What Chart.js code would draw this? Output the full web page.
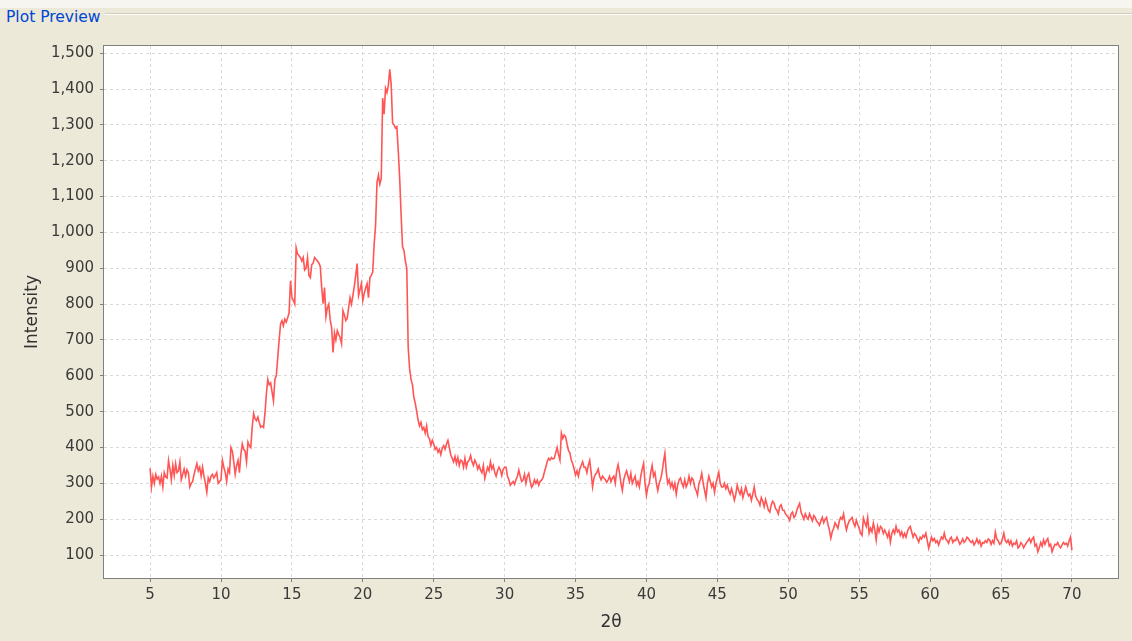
<!DOCTYPE html>
<html>
<head>
<meta charset="utf-8">
<script src="https://cdn.jsdelivr.net/npm/chart.js@4.4.1/dist/chart.umd.min.js"></script>
<style>
    body {
        margin: 0;
        width: 1132px;
        height: 641px;
        overflow: hidden;
        position: relative;
        background: #ece9d8;
        font-family: "DejaVu Sans", sans-serif;
    }
    #top-strip {
        position: absolute; left: 0; top: 0;
        width: 1132px; height: 8px;
        background: #f6f5ef;
    }
    #group-rule {
        position: absolute; left: 105px; top: 13px;
        width: 1027px; height: 0;
        border-top: 1px solid #cfcdbd;
        border-bottom: 1px solid #ffffff;
    }
    #group-title {
        position: absolute; left: 6px; top: 8px;
        color: #0046d5;
        font-size: 15.5px;
        line-height: 18px;
    }
    #myChart { position: absolute; left: 0; top: 0; }
</style>
</head>
<body>
<div id="top-strip"></div>
<div id="group-rule"></div>
<div id="group-title">Plot Preview</div>
<canvas id="myChart" width="1132" height="641"></canvas>

<script>
var thetaStart = 5;
var thetaStep = 0.1;
var intensity = [
    342, 290, 320, 300, 325, 312, 318, 300, 320, 290,   // 5
    330, 318, 315, 364, 340, 310, 350, 322, 355, 330,   // 6
    335, 360, 310, 325, 340, 320, 338, 330, 290, 300,   // 7
    305, 325, 340, 355, 335, 345, 320, 345, 320, 300,   // 8
    275, 315, 305, 320, 325, 315, 322, 330, 300, 305,   // 9
    310, 364, 345, 330, 305, 340, 330, 400, 390, 360,   // 10
    325, 350, 364, 330, 380, 410, 395, 390, 360, 415,   // 11
    405, 400, 457, 495, 480, 475, 485, 470, 457, 460,   // 12
    456, 495, 550, 590, 575, 580, 555, 530, 590, 600,   // 13
    650, 700, 745, 754, 740, 758, 750, 762, 775, 865,   // 14
    820, 810, 800, 957, 940, 935, 930, 920, 930, 895,   // 15
    900, 930, 880, 874, 910, 915, 930, 925, 920, 915,   // 16
    905, 846, 801, 846, 765, 790, 800, 755, 735, 665,   // 17
    720, 700, 726, 715, 707, 690, 782, 770, 754, 760,   // 18
    790, 818, 800, 824, 850, 880, 913, 824, 840, 857,   // 19
    810, 830, 845, 857, 818, 874, 880, 890, 968, 1020,  // 20
    1140, 1160, 1135, 1150, 1375, 1330, 1402, 1390, 1410, 1455, // 21
    1413, 1305, 1300, 1291, 1295, 1227, 1150, 1050, 960, 950,   // 22
    920, 900, 679, 620, 590, 575, 540, 523, 500, 476,   // 23
    460, 470, 450, 456, 440, 460, 430, 425, 406, 420,   // 24
    410, 395, 400, 387, 395, 380, 398, 405, 395, 410,   // 25
    420, 400, 380, 370, 360, 375, 356, 372, 350, 365,   // 26
    362, 345, 370, 345, 360, 365, 378, 360, 350, 365,   // 27
    356, 340, 350, 337, 330, 350, 314, 330, 345, 335,   // 28
    360, 340, 350, 331, 320, 335, 345, 337, 322, 340,   // 29
    345, 345, 320, 310, 295, 300, 305, 297, 310, 320,   // 30
    337, 320, 305, 309, 325, 300, 320, 328, 305, 289,   // 31
    295, 310, 300, 309, 295, 305, 309, 315, 331, 345,   // 32
    360, 370, 365, 372, 368, 370, 385, 400, 380, 365,   // 33
    440, 425, 435, 430, 410, 392, 385, 365, 355, 340,   // 34
    323, 335, 320, 340, 350, 360, 345, 345, 330, 350,   // 35
    364, 330, 290, 315, 325, 330, 340, 320, 310, 320,   // 36
    315, 310, 303, 310, 320, 305, 315, 320, 300, 335,   // 37
    352, 330, 300, 280, 310, 325, 335, 320, 305, 328,   // 38
    300, 310, 320, 295, 305, 290, 320, 340, 356, 300,   // 39
    267, 290, 300, 330, 350, 320, 330, 300, 280, 300,   // 40
    312, 330, 360, 384, 330, 300, 310, 290, 302, 285,   // 41
    300, 270, 295, 310, 315, 300, 290, 310, 290, 300,   // 42
    320, 300, 315, 310, 290, 280, 267, 300, 310, 328,   // 43
    300, 280, 260, 300, 320, 305, 290, 300, 275, 300,   // 44
    315, 331, 300, 290, 290, 300, 285, 295, 280, 270,   // 45
    285, 270, 253, 270, 295, 280, 270, 285, 260, 275,   // 46
    290, 275, 265, 270, 253, 270, 290, 265, 255, 250,   // 47
    239, 260, 250, 235, 255, 240, 225, 220, 240, 250,   // 48
    244, 230, 225, 215, 235, 240, 225, 225, 215, 210,   // 49
    205, 197, 215, 220, 205, 210, 225, 235, 244, 220,   // 50
    210, 200, 215, 205, 200, 215, 205, 195, 210, 205,   // 51
    195, 190, 183, 195, 205, 190, 200, 205, 185, 170,   // 52
    147, 165, 175, 190, 183, 175, 195, 205, 200, 215,   // 53
    190, 170, 185, 195, 200, 205, 190, 180, 197, 185,   // 54
    175, 161, 155, 203, 190, 180, 205, 161, 175, 165,   // 55
    189, 170, 142, 180, 165, 180, 175, 160, 170, 161,   // 56
    150, 165, 136, 160, 170, 160, 180, 165, 170, 155,   // 57
    165, 150, 160, 150, 165, 175, 180, 165, 150, 160,   // 58
    155, 145, 136, 150, 145, 155, 150, 161, 140, 119,   // 59
    135, 150, 140, 146, 135, 140, 128, 140, 150, 145,   // 60
    161, 145, 140, 133, 145, 150, 135, 142, 140, 150,   // 61
    140, 130, 136, 145, 135, 140, 150, 146, 140, 135,   // 62
    140, 128, 135, 145, 133, 140, 125, 135, 133, 140,   // 63
    135, 145, 142, 130, 140, 133, 164, 145, 140, 130,   // 64
    133, 145, 161, 140, 135, 142, 130, 140, 125, 133,   // 65
    130, 140, 120, 124, 135, 130, 120, 128, 135, 140,   // 66
    146, 135, 145, 150, 125, 130, 109, 120, 135, 125,   // 67
    142, 130, 140, 146, 125, 130, 109, 120, 130, 128,   // 68
    135, 125, 120, 128, 135, 130, 133, 125, 140, 150,   // 69
    114                                                 // 70
];
var xMin = 1.75, xMax = 73.25;
var yMin = 36, yMax = 1520;

var tickFont = { family: "DejaVu Sans", size: 15 };
var titleFont = { family: "DejaVu Sans", size: 17 };

function make_points() {
    var pts = [];
    for (var i = 0; i < intensity.length; i++) {
        var x = Math.round((thetaStart + i * thetaStep) * 100) / 100;
        pts.push({ x: x, y: intensity[i] });
    }
    return pts;
}

// white plot background and grey frame round the data area
var plotFrame = {
    id: 'plotFrame',
    beforeDraw: function (chart) {
        var a = chart.chartArea;
        var ctx = chart.ctx;
        ctx.save();
        ctx.fillStyle = '#ffffff';
        ctx.fillRect(a.left, a.top, a.right - a.left, a.bottom - a.top);
        ctx.restore();
    },
    afterDraw: function (chart) {
        var a = chart.chartArea;
        var ctx = chart.ctx;
        ctx.save();
        ctx.strokeStyle = '#808080';
        ctx.lineWidth = 1;
        ctx.strokeRect(a.left - 0.5, a.top - 0.5, a.right - a.left + 1, a.bottom - a.top + 1);
        ctx.restore();
    }
};

function chart_xrd() {
    var ctx = document.getElementById('myChart').getContext('2d');
    var chartConfig = {
        type: 'line',
        data: {
            datasets: [{
                label: 'Intensity',
                data: make_points(),
                borderColor: '#ff5555',
                borderWidth: 1.6,
                pointRadius: 0,
                tension: 0,
                fill: false
            }]
        },
        options: {
            responsive: false,
            animation: false,
            devicePixelRatio: 1,
            layout: { padding: { left: 0, top: 46, right: 14, bottom: 0 } },
            scales: {
                x: {
                    type: 'linear',
                    min: xMin,
                    max: xMax,
                    afterFit: function (scale) { scale.height = 63; },
                    border: { display: false, dash: [3, 3] },
                    grid: {
                        color: '#d9d9d9',
                        tickColor: '#808080',
                        tickLength: 4,
                        tickBorderDash: []
                    },
                    ticks: {
                        stepSize: 5,
                        includeBounds: false,
                        maxRotation: 0,
                        padding: 4,
                        color: '#3a3a3a',
                        font: tickFont
                    },
                    title: {
                        display: true,
                        text: '2θ',
                        color: '#333333',
                        font: titleFont,
                        padding: { top: 0, bottom: 8 }
                    }
                },
                y: {
                    min: yMin,
                    max: yMax,
                    afterFit: function (scale) { scale.width = 104; },
                    border: { display: false, dash: [3, 3] },
                    grid: {
                        color: '#d9d9d9',
                        tickColor: '#808080',
                        tickLength: 4,
                        tickBorderDash: []
                    },
                    ticks: {
                        stepSize: 100,
                        includeBounds: false,
                        padding: 6,
                        color: '#3a3a3a',
                        font: tickFont,
                        callback: function (v) { return v.toLocaleString('en-US'); }
                    },
                    title: {
                        display: true,
                        text: 'Intensity',
                        color: '#333333',
                        font: titleFont,
                        padding: { top: 22, bottom: 0 }
                    }
                }
            },
            plugins: {
                legend: { display: false },
                tooltip: { enabled: false }
            }
        },
        plugins: [plotFrame]
    };
    return new Chart(ctx, chartConfig);
}

var chart = chart_xrd();
</script>
</body>
</html>
